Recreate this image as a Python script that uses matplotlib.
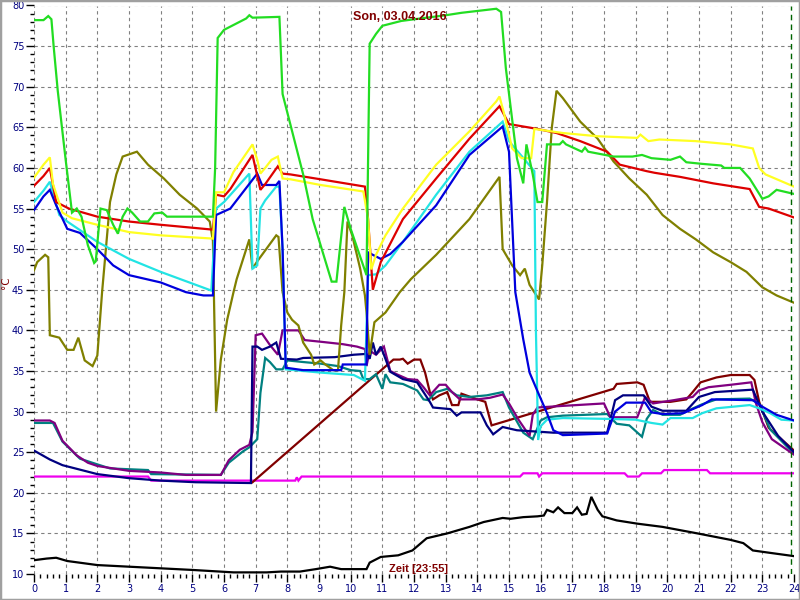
import matplotlib
matplotlib.use("Agg")
import matplotlib.pyplot as plt
from matplotlib.patches import Rectangle
from matplotlib.ticker import MultipleLocator

# each series: hours of the day and temperature in °C
green_h = [0, 0.3, 0.45, 0.55, 0.62, 0.75, 1.0, 1.2, 1.35, 1.5, 1.7, 1.9, 1.95, 2.1, 2.3, 2.5, 2.65, 2.8,
           2.95, 3.1, 3.35, 3.6, 3.8, 4.05, 4.2, 5.65, 5.72, 5.8, 6.0, 6.2, 6.7, 6.8, 6.9, 7.75, 7.85, 8.5,
           8.8, 9.4, 9.55, 9.8, 10.0, 10.5, 10.6, 10.8, 11.0, 11.6, 13.0, 13.5, 14.6, 14.75, 14.9, 15.25,
           15.45, 15.55, 15.75, 15.9, 16.05, 16.2, 16.6, 16.7, 16.8, 17.3, 17.4, 17.5, 18.3, 18.9, 19.2,
           19.5, 20.1, 20.4, 20.6, 21.1, 21.7, 21.8, 22.3, 22.6, 23.0, 23.2, 23.45, 24]
green_t = [78.2, 78.2, 78.7, 78.3, 75.0, 69.5, 61.0, 54.5, 55.0, 54.0, 50.5, 48.3, 48.5, 55.0, 54.8, 53.0,
           51.9, 54.0, 55.0, 54.5, 53.4, 53.4, 54.4, 54.5, 54.0, 54.0, 60.0, 76.0, 77.0, 77.4, 78.4, 78.8,
           78.5, 78.6, 69.1, 59.2, 53.7, 46.0, 46.0, 55.2, 52.5, 46.8, 75.3, 76.5, 77.5, 78.1, 78.8, 79.1,
           79.6, 79.2, 72.3, 61.2, 58.1, 62.9, 59.2, 55.8, 55.8, 62.9, 62.9, 63.3, 62.9, 62.0, 62.5, 62.0,
           61.4, 61.4, 61.6, 61.2, 61.0, 61.4, 60.7, 60.5, 60.3, 60.0, 60.0, 58.7, 56.2, 56.5, 57.3, 56.8]

yellow_h = [0, 0.3, 0.5, 0.6, 0.9, 1.2, 2, 3, 4, 5.65, 5.75, 6.0, 6.3, 6.9, 7.05, 7.15, 7.3, 7.5, 7.7,
            7.85, 8.1, 9.05, 10.4, 10.55, 10.65, 10.8, 11.1, 11.65, 12.7, 13.75, 14.6, 14.7, 14.85, 15.1,
            15.4, 15.7, 15.8, 16.7, 17.8, 19.05, 19.15, 19.4, 19.75, 20.9, 22.0, 22.7, 22.9, 23.1, 24]
yellow_t = [58.8, 60.4, 61.3, 58.0, 54.5, 53.8, 53.0, 52.1, 51.7, 51.3, 57.0, 57.0, 59.5, 62.9, 61.0,
            59.3, 60.0, 61.0, 61.4, 58.7, 58.6, 57.9, 57.1, 53.7, 47.5, 49.3, 51.7, 55.0, 60.4, 64.5,
            68.2, 68.8, 66.6, 62.4, 61.2, 61.2, 64.8, 64.3, 63.9, 63.7, 64.1, 63.3, 63.5, 63.3, 62.9,
            62.4, 60.0, 59.2, 57.7]

red_h = [0, 0.3, 0.5, 0.7, 1.1, 2, 3, 4, 5.65, 5.75, 6.0, 6.2, 6.9, 7.15, 7.3, 7.7, 7.85, 8.1, 9.05,
         10.45, 10.55, 10.7, 10.95, 11.65, 12.7, 13.75, 14.7, 15.0, 15.9, 16.5, 17.25, 18.1, 18.5, 19.35,
         19.6, 20.4, 21.45, 22.6, 22.9, 23.2, 24]
red_t = [57.8, 59.0, 60.0, 55.8, 55.0, 54.0, 53.4, 53.0, 52.4, 56.7, 56.5, 57.4, 61.6, 57.3, 58.0, 60.2,
         59.3, 59.2, 58.6, 57.7, 53.7, 45.0, 48.4, 53.7, 58.7, 63.6, 67.6, 65.4, 64.8, 64.3, 63.3, 62.0,
         60.4, 59.6, 59.4, 58.9, 58.1, 57.4, 55.2, 55.0, 53.9]

cyan_h = [0, 0.3, 0.5, 0.8, 1.05, 2, 3, 4, 5.6, 5.75, 6.0, 6.8, 6.9, 7.05, 7.15, 7.3, 7.65, 7.75, 7.85,
          7.95, 8.5, 9.05, 10.1, 10.45, 10.55, 10.8, 11.1, 11.65, 12.7, 13.75, 14.8, 15.0, 15.5, 15.8,
          15.85, 15.92, 16.0, 16.2, 16.7, 18.1, 19.0, 19.5, 19.85, 20.1, 20.8, 21.1, 21.55, 22.6, 22.9,
          23.25, 23.6, 24]
cyan_t = [55.8, 57.2, 58.3, 54.2, 53.4, 50.9, 48.8, 47.2, 44.9, 55.0, 55.8, 59.3, 47.6, 48.0, 55.0,
          56.0, 57.7, 57.7, 50.0, 35.2, 35.0, 34.8, 34.5, 33.8, 46.8, 46.9, 48.0, 50.9, 56.7, 62.0, 65.7,
          63.3, 61.0, 59.6, 40.0, 26.5, 28.2, 29.0, 29.2, 29.1, 29.0, 28.6, 28.4, 29.2, 29.2, 29.8, 30.4,
          30.8, 30.4, 29.8, 29.0, 28.9]

blue_h = [0, 0.3, 0.5, 0.7, 1.05, 1.45, 2, 2.5, 3, 4, 4.8, 5.35, 5.65, 5.75, 6.2, 7.05, 7.2, 7.65, 7.75,
          7.85, 7.95, 8.5, 9.7, 9.75, 10.5, 10.55, 10.95, 11.25, 11.65, 12.7, 13.75, 14.8, 15.0, 15.2,
          15.45, 15.65, 15.9, 16.2, 16.4, 16.7, 18.1, 18.35, 18.7, 19.3, 19.5, 19.85, 20.5, 21.1, 21.4,
          22.7, 23.0, 23.45, 24]
blue_t = [54.8, 56.5, 57.3, 55.4, 52.5, 52.0, 50.0, 48.0, 46.8, 45.9, 44.7, 44.3, 44.3, 54.2, 55.0,
          59.3, 57.9, 57.9, 58.4, 50.0, 35.4, 35.1, 35.1, 35.8, 35.8, 49.6, 48.8, 49.4, 50.9, 55.4, 61.6,
          65.1, 62.0, 44.7, 38.9, 34.8, 32.5, 29.8, 27.7, 27.1, 27.3, 30.0, 31.1, 31.1, 29.9, 29.7, 29.8,
          30.8, 31.5, 31.4, 30.6, 29.6, 28.9]

olive_h = [0, 0.1, 0.35, 0.45, 0.5, 0.8, 1.05, 1.25, 1.4, 1.6, 1.85, 2.0, 2.15, 2.4, 2.6, 2.8, 3.25,
           3.6, 4.1, 4.6, 5.15, 5.55, 5.65, 5.75, 5.9, 6.1, 6.3, 6.4, 6.8, 6.9, 7.05, 7.65, 7.72, 7.85,
           8.0, 8.15, 8.35, 8.5, 8.75, 8.85, 9.05, 9.2, 9.45, 9.6, 9.7, 9.8, 9.9, 10.05, 10.3, 10.45,
           10.5, 10.6, 10.75, 11.1, 11.55, 11.9, 12.7, 13.75, 14.7, 14.8, 15.1, 15.35, 15.5, 15.65, 15.95,
           16.05, 16.2, 16.35, 16.5, 16.7, 17.25, 17.8, 18.3, 18.8, 19.35, 19.85, 20.4, 20.9, 21.45, 22.0,
           22.5, 23.0, 23.45, 24]
olive_t = [47.4, 48.4, 49.3, 49.0, 39.4, 39.1, 37.6, 37.6, 39.1, 36.3, 35.6, 36.9, 44.7, 55.8, 59.2,
           61.4, 62.0, 60.4, 58.7, 56.7, 55.0, 53.4, 51.0, 30.0, 36.4, 41.3, 44.7, 46.3, 51.2, 47.6, 48.5,
           51.7, 51.5, 44.7, 42.2, 41.3, 40.6, 38.5, 37.0, 35.8, 36.3, 35.8, 35.1, 35.1, 40.6, 44.7, 53.4,
           51.7, 47.6, 44.3, 42.2, 37.0, 41.0, 42.2, 44.7, 46.3, 49.3, 53.7, 58.9, 50.0, 48.0, 46.8, 47.6,
           45.6, 43.8, 48.0, 55.8, 64.9, 69.5, 68.6, 65.7, 63.6, 60.8, 58.7, 56.7, 54.2, 52.5, 51.2, 49.6,
           48.4, 47.2, 45.3, 44.3, 43.4]

navy_h = [0, 0.5, 0.9, 2, 3, 4, 5.1, 6.85, 6.9, 7.05, 7.2, 7.45, 7.65, 7.8, 8.3, 8.5, 9.5, 10.1, 10.5,
          10.6, 10.7, 10.8, 10.95, 11.05, 11.25, 11.65, 12.1, 12.3, 12.5, 12.6, 13.15, 13.35, 13.5, 14.1,
          14.3, 14.5, 14.8, 15.25, 16.4, 18.1, 18.35, 18.6, 19.25, 19.5, 19.85, 20.6, 21.0, 21.5, 22.7,
          23.0, 23.5, 24]
navy_t = [25.2, 24.1, 23.4, 22.3, 21.8, 21.5, 21.3, 21.2, 38.0, 38.0, 37.6, 38.0, 38.5, 36.5, 36.4,
          36.6, 36.7, 37.0, 37.1, 36.5, 38.5, 37.0, 38.0, 37.0, 34.9, 34.0, 33.6, 32.4, 31.2, 30.5, 30.3,
          29.5, 29.9, 29.9, 28.3, 27.2, 28.1, 27.7, 27.4, 27.4, 31.4, 32.0, 32.0, 30.6, 30.1, 30.1, 31.8,
          32.4, 32.7, 30.0, 27.0, 25.0]

purple_h = [0, 0.5, 0.65, 0.9, 1.35, 1.7, 2, 2.5, 3, 4, 4.8, 5.9, 6.15, 6.5, 6.8, 6.9, 7.0, 7.2, 7.45,
            7.7, 7.85, 8.35, 8.55, 9.05, 9.75, 10.2, 10.45, 10.5, 10.6, 10.8, 11.05, 11.25, 11.45, 11.8,
            12.1, 12.3, 12.5, 12.8, 13.0, 13.2, 13.45, 14.0, 14.4, 14.8, 15.0, 15.3, 15.65, 15.75, 15.9,
            16.7, 18.0, 18.2, 19.05, 19.3, 19.55, 20.2, 20.8, 21.0, 21.3, 22.0, 22.65, 22.8, 23.0, 23.3, 24]
purple_t = [28.9, 28.9, 28.6, 26.4, 24.6, 23.7, 23.3, 23.0, 22.7, 22.5, 22.2, 22.2, 24.0, 25.3, 25.9,
            27.5, 39.4, 39.6, 38.2, 37.0, 40.0, 40.0, 38.8, 38.6, 38.3, 38.0, 37.7, 35.6, 37.5, 37.0,
            38.0, 35.0, 34.6, 34.0, 33.9, 33.0, 32.0, 33.3, 33.3, 32.4, 31.5, 31.5, 31.7, 32.1, 31.0, 29.0,
            27.0, 29.6, 30.5, 30.7, 31.0, 29.3, 29.3, 31.8, 31.0, 31.4, 31.8, 32.6, 33.0, 33.3, 33.6, 31.0,
            28.7, 26.6, 24.7]

teal_h = [0, 0.6, 0.9, 1.45, 2, 2.4, 3.6, 3.7, 5.9, 6.15, 6.6, 6.8, 7.05, 7.15, 7.3, 7.45, 7.65, 7.85,
          8.0, 8.5, 9.05, 9.6, 10.0, 10.3, 10.4, 10.6, 10.8, 11.0, 11.1, 11.25, 11.65, 12.1, 12.3, 12.45,
          12.7, 13.05, 13.35, 13.75, 14.3, 14.8, 15.0, 15.45, 15.75, 16.0, 16.2, 16.7, 18.1, 18.4, 18.8,
          19.2, 19.35, 19.55, 19.85, 20.4, 20.7, 21.1, 21.55, 22.6, 22.9, 23.25, 24]
teal_t = [28.6, 28.6, 26.3, 24.2, 23.5, 23.0, 22.8, 22.3, 22.2, 23.7, 25.1, 25.6, 26.6, 32.3, 36.6,
          36.1, 35.2, 35.2, 36.3, 36.1, 35.9, 35.6, 35.1, 35.0, 34.0, 34.0, 34.6, 32.8, 34.6, 33.6, 33.4,
          32.6, 31.5, 31.4, 32.4, 32.8, 32.0, 31.8, 32.0, 32.4, 30.5, 27.4, 26.6, 28.9, 29.3, 29.5, 29.7,
          28.5, 28.3, 26.9, 29.1, 30.2, 29.6, 29.6, 30.2, 30.9, 31.5, 31.6, 31.0, 27.8, 24.8]

maroon_h = [6.9, 11.2, 11.35, 11.55, 11.65, 11.8, 12.0, 12.2, 12.35, 12.5, 12.6, 12.8, 13.05, 13.2, 13.4,
            13.5, 14.0, 14.25, 14.45, 18.3, 18.4, 19.05, 19.25, 19.45, 20.1, 20.6, 20.8, 21.05, 21.55,
            22.0, 22.6, 22.75, 22.9, 23.2, 24]
maroon_t = [21.3, 35.9, 36.4, 36.4, 36.5, 35.9, 36.4, 36.4, 34.8, 32.4, 31.5, 32.0, 32.4, 30.8, 30.8,
            32.2, 31.5, 31.2, 28.3, 32.8, 33.4, 33.6, 33.3, 31.2, 31.2, 31.5, 32.4, 33.6, 34.2, 34.5, 34.5,
            33.9, 31.2, 28.0, 25.2]

magenta_h = [0, 3.6, 3.7, 8.25, 8.3, 8.35, 8.45, 15.35, 15.45, 15.9, 15.95, 16.05, 18.65, 18.75, 19.1,
             19.2, 19.8, 19.9, 21.25, 21.35, 24]
magenta_t = [22.0, 22.0, 21.5, 21.5, 21.9, 21.5, 22.0, 22.0, 22.4, 22.4, 22.0, 22.4, 22.4, 22.0, 22.0,
             22.4, 22.4, 22.8, 22.8, 22.4, 22.4]

black_h = [0, 0.4, 0.7, 1.05, 2, 3, 4, 5, 6.3, 7.35, 7.8, 8.4, 8.9, 9.35, 9.7, 10.5, 10.6, 10.8, 10.95,
           11.5, 11.95, 12.4, 13.05, 13.75, 14.2, 14.8, 15.05, 15.45, 15.9, 16.1, 16.2, 16.4, 16.55, 16.75,
           17.0, 17.15, 17.3, 17.45, 17.6, 17.8, 17.95, 18.4, 19.05, 19.85, 20.95, 22.0, 22.4, 22.7, 23.25, 24]
black_t = [11.7, 11.9, 12.0, 11.6, 11.1, 10.9, 10.7, 10.5, 10.2, 10.2, 10.3, 10.3, 10.6, 10.9, 10.6,
           10.6, 11.4, 11.8, 12.1, 12.3, 12.9, 14.4, 15.0, 15.8, 16.4, 16.9, 16.8, 17.0, 17.1, 17.2, 17.9,
           17.6, 18.2, 17.5, 17.5, 18.2, 17.3, 17.4, 19.5, 17.9, 17.1, 16.6, 16.2, 15.8, 15.0, 14.2, 13.8,
           12.9, 12.6, 12.2]

title_text = "Son, 03.04.2016"
time_text = "Zeit [23:55]"
now_hour = 23 + 55 / 60


def main():
    fig = plt.figure(figsize=(8, 6), dpi=100)
    ax = fig.add_axes([34 / 800, 26 / 600, 760 / 800, 568.5 / 600])

    series = [
        (black_h, black_t, "#000000"),
        (magenta_h, magenta_t, "#ee00ee"),
        (maroon_h, maroon_t, "#800000"),
        (teal_h, teal_t, "#008080"),
        (purple_h, purple_t, "#800080"),
        (navy_h, navy_t, "#000080"),
        (olive_h, olive_t, "#808000"),
        (cyan_h, cyan_t, "#22e4e4"),
        (blue_h, blue_t, "#0000dd"),
        (red_h, red_t, "#dd0000"),
        (yellow_h, yellow_t, "#ffff22"),
        (green_h, green_t, "#22dd22"),
    ]
    for hours, temps, color in series:
        ax.plot(hours, temps, color=color, lw=1.6, solid_joinstyle="miter")

    ax.axvline(now_hour, color="#006400", lw=1.0, ls=(0, (4, 3)))

    ax.set_xlim(0, 24)
    ax.set_ylim(10, 80)
    ax.xaxis.set_major_locator(MultipleLocator(1))
    ax.xaxis.set_minor_locator(MultipleLocator(0.2))
    ax.yaxis.set_major_locator(MultipleLocator(5))
    ax.yaxis.set_minor_locator(MultipleLocator(1))
    ax.tick_params(which="major", length=6, width=1, color="black", labelsize=7,
                   labelcolor="#000080", pad=1)
    ax.tick_params(which="minor", length=3, width=1, color="black")
    for s in ax.spines.values():
        s.set_visible(False)
    ax.grid(True, which="major", color="#808080", lw=0.8, ls=(0, (3, 3)))
    ax.set_axisbelow(True)

    fig.text(400 / 800, 1 - 17.5 / 600, title_text, ha="center", va="center",
             color="#800000", fontsize=9, fontweight="bold", family="Liberation Sans")
    fig.text(389 / 800, 1 - 572 / 600, time_text, ha="left", va="baseline",
             color="#800000", fontsize=8, fontweight="bold", family="Liberation Sans")
    fig.text(6 / 800, 1 - 283 / 600, "°C", ha="center", va="center", rotation=90,
             color="#800000", fontsize=7.5)

    fig.patches.append(Rectangle((0, 0), 1, 1, transform=fig.transFigure, fill=False,
                                 edgecolor="#a0a0a0", lw=2.5))

    fig.savefig("out.png", dpi=100)


if __name__ == "__main__":
    main()
